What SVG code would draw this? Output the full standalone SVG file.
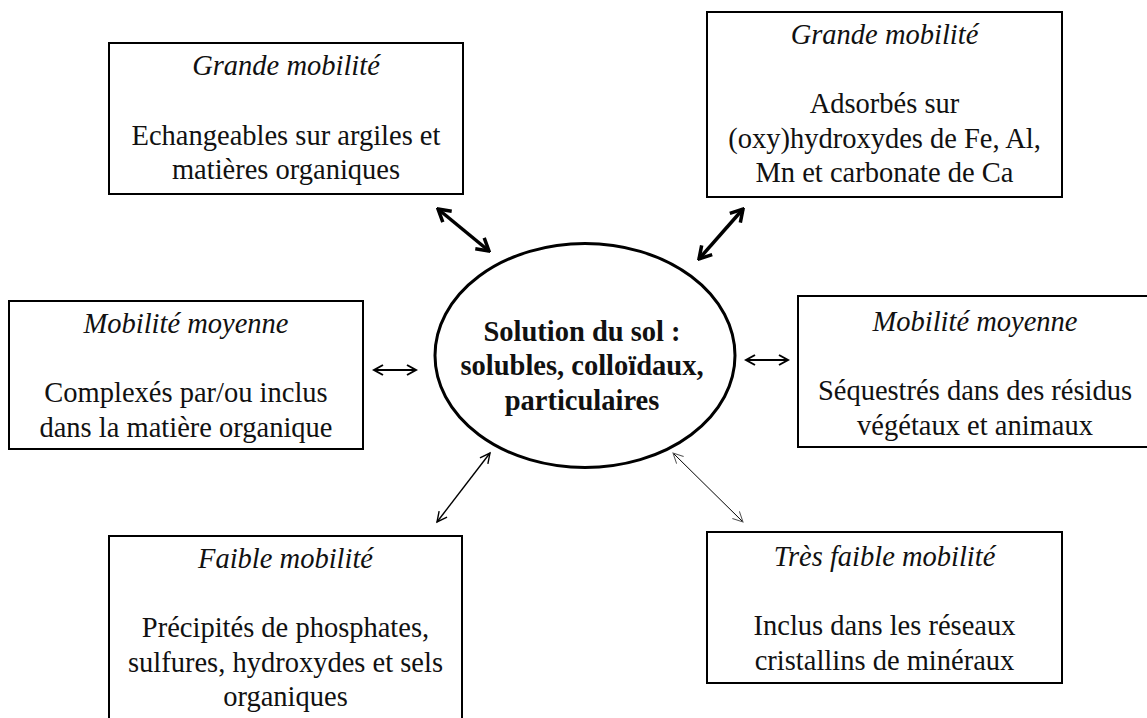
<svg xmlns="http://www.w3.org/2000/svg" width="1147" height="718" viewBox="0 0 1147 718">
<defs>
<style>
.box{fill:#fff;stroke:#000;stroke-width:2}
text{font-family:"Liberation Serif","Times New Roman",serif;font-size:28.5px;fill:#111;text-anchor:middle}
.t{font-style:italic}
.b{font-weight:bold}
.ln{fill:none;stroke:#000}
</style>
<marker id="hThick" markerUnits="userSpaceOnUse" viewBox="-14 -9 16 18" refX="0" refY="0" markerWidth="16" markerHeight="18" orient="auto-start-reverse"><path d="M-12,-7 L0,0 L-12,7" fill="none" stroke="#000" stroke-width="3.5" stroke-linejoin="miter"/></marker>
<marker id="hMid" markerUnits="userSpaceOnUse" viewBox="-12 -7 14 14" refX="0" refY="0" markerWidth="14" markerHeight="14" orient="auto-start-reverse"><path d="M-9,-5 L0,0 L-9,5" fill="none" stroke="#000" stroke-width="2"/></marker>
<marker id="hThin" markerUnits="userSpaceOnUse" viewBox="-12 -7 14 14" refX="0" refY="0" markerWidth="14" markerHeight="14" orient="auto-start-reverse"><path d="M-10,-5 L0,0 L-10,5" fill="none" stroke="#000" stroke-width="1.4"/></marker>
<marker id="hGray" markerUnits="userSpaceOnUse" viewBox="-12 -7 14 14" refX="0" refY="0" markerWidth="14" markerHeight="14" orient="auto-start-reverse"><path d="M-10,-5 L0,0 L-10,5" fill="none" stroke="#555" stroke-width="1"/></marker>
</defs>
<rect width="1147" height="718" fill="#fff"/>
<g id="connectors">
<line class="ln" x1="438" y1="209" x2="489" y2="251" stroke-width="3.5" marker-start="url(#hThick)" marker-end="url(#hThick)"/>
<line class="ln" x1="743" y1="209" x2="699" y2="259" stroke-width="3.5" marker-start="url(#hThick)" marker-end="url(#hThick)"/>
<line class="ln" x1="374" y1="370" x2="416" y2="370" stroke-width="2" marker-start="url(#hMid)" marker-end="url(#hMid)"/>
<line class="ln" x1="746" y1="360" x2="788" y2="360" stroke-width="2" marker-start="url(#hMid)" marker-end="url(#hMid)"/>
<line class="ln" x1="490" y1="453" x2="437" y2="522" stroke-width="1.4" marker-start="url(#hThin)" marker-end="url(#hThin)"/>
<line class="ln" x1="673" y1="453" x2="743" y2="522" stroke="#555" stroke-width="1" marker-start="url(#hGray)" marker-end="url(#hGray)"/>
</g>
<g id="center">
<ellipse cx="585" cy="355.5" rx="150" ry="112" fill="#fff" stroke="#000" stroke-width="3"/>
<text class="b" x="582" y="340.5">Solution du sol :</text>
<text class="b" x="582" y="375">solubles, colloïdaux,</text>
<text class="b" x="582" y="409.5">particulaires</text>
</g>
<g id="box-grande-1">
<rect class="box" x="109" y="43" width="354" height="151"/>
<text class="t" x="286" y="75">Grande mobilité</text>
<text x="286" y="144.5">Echangeables sur argiles et</text>
<text x="286" y="179">matières organiques</text>
</g>
<g id="box-grande-2">
<rect class="box" x="707" y="12" width="355" height="185"/>
<text class="t" x="884.5" y="44">Grande mobilité</text>
<text x="884.5" y="113">Adsorbés sur</text>
<text x="884.5" y="147.5">(oxy)hydroxydes de Fe, Al,</text>
<text x="884.5" y="182">Mn et carbonate de Ca</text>
</g>
<g id="box-moyenne-1">
<rect class="box" x="9" y="301" width="354" height="148"/>
<text class="t" x="186" y="333">Mobilité moyenne</text>
<text x="186" y="402">Complexés par/ou inclus</text>
<text x="186" y="436.5">dans la matière organique</text>
</g>
<g id="box-moyenne-2">
<rect class="box" x="798" y="296" width="354" height="151"/>
<text class="t" x="975" y="331">Mobilité moyenne</text>
<text x="975" y="400">Séquestrés dans des résidus</text>
<text x="975" y="434.5">végétaux et animaux</text>
</g>
<g id="box-faible">
<rect class="box" x="109" y="536" width="353" height="200"/>
<text class="t" x="285.5" y="568">Faible mobilité</text>
<text x="285.5" y="637">Précipités de phosphates,</text>
<text x="285.5" y="671.5">sulfures, hydroxydes et sels</text>
<text x="285.5" y="706">organiques</text>
</g>
<g id="box-tres-faible">
<rect class="box" x="707" y="532" width="355" height="151"/>
<text class="t" x="884.5" y="565.5">Très faible mobilité</text>
<text x="884.5" y="635">Inclus dans les réseaux</text>
<text x="884.5" y="669.5">cristallins de minéraux</text>
</g>
</svg>
